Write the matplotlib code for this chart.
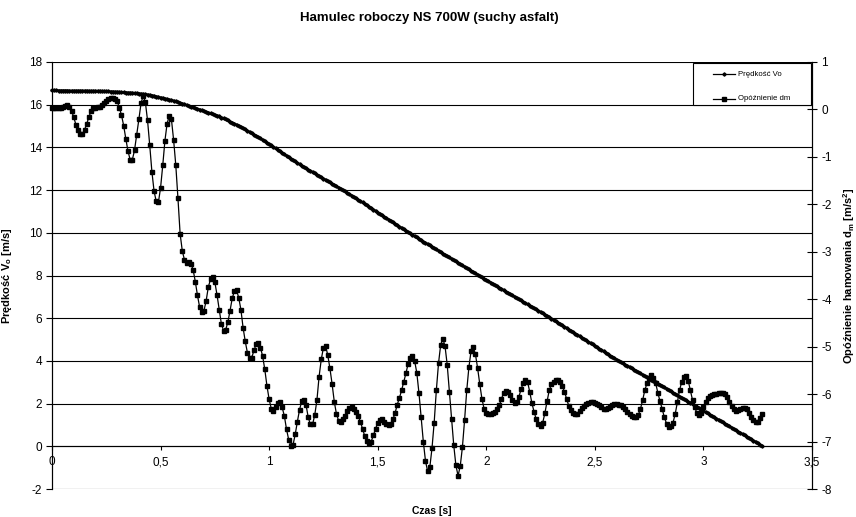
import numpy as np
import matplotlib
matplotlib.use("Agg")
import matplotlib.pyplot as plt
from matplotlib.lines import Line2D
from matplotlib.patches import Rectangle

plt.rcParams['font.family'] = ['Liberation Sans', 'DejaVu Sans']

# time samples [s] (0.01 s step)
time_s = np.round(np.arange(0, 328) * 0.01, 2)

# speed Vo [m/s]
speed = [
    16.67, 16.67, 16.67, 16.66, 16.66, 16.66, 16.66, 16.66, 16.65, 16.65,
    16.65, 16.65, 16.65, 16.65, 16.65, 16.65, 16.65, 16.64, 16.64, 16.64,
    16.64, 16.64, 16.64, 16.63, 16.63, 16.62, 16.62, 16.61, 16.61, 16.60,
    16.60, 16.59, 16.58, 16.58, 16.57, 16.56, 16.56, 16.55, 16.54, 16.53,
    16.52, 16.51, 16.50, 16.48, 16.47, 16.45, 16.43, 16.41, 16.38, 16.36,
    16.33, 16.31, 16.28, 16.26, 16.23, 16.21, 16.18, 16.15, 16.12, 16.08,
    16.05, 16.01, 15.98, 15.94, 15.91, 15.87, 15.84, 15.80, 15.77, 15.73,
    15.70, 15.66, 15.63, 15.59, 15.56, 15.52, 15.49, 15.45, 15.40, 15.36,
    15.31, 15.26, 15.21, 15.16, 15.11, 15.06, 15.01, 14.96, 14.90, 14.84,
    14.78, 14.72, 14.66, 14.60, 14.54, 14.48, 14.42, 14.35, 14.29, 14.22,
    14.15, 14.09, 14.02, 13.95, 13.89, 13.82, 13.75, 13.68, 13.61, 13.54,
    13.47, 13.41, 13.34, 13.27, 13.21, 13.14, 13.08, 13.02, 12.96, 12.90,
    12.84, 12.78, 12.72, 12.66, 12.60, 12.54, 12.48, 12.42, 12.36, 12.30,
    12.24, 12.18, 12.12, 12.06, 12.00, 11.94, 11.87, 11.81, 11.74, 11.68,
    11.61, 11.55, 11.48, 11.42, 11.35, 11.29, 11.22, 11.16, 11.09, 11.02,
    10.95, 10.89, 10.82, 10.75, 10.69, 10.62, 10.56, 10.49, 10.42, 10.36,
    10.29, 10.23, 10.16, 10.10, 10.03, 9.97, 9.91, 9.84, 9.78, 9.72,
    9.66, 9.59, 9.53, 9.47, 9.41, 9.35, 9.28, 9.22, 9.16, 9.10,
    9.03, 8.97, 8.91, 8.85, 8.78, 8.72, 8.66, 8.60, 8.53, 8.47,
    8.41, 8.35, 8.29, 8.22, 8.16, 8.10, 8.04, 7.97, 7.91, 7.85,
    7.79, 7.73, 7.67, 7.61, 7.55, 7.49, 7.43, 7.37, 7.31, 7.25,
    7.19, 7.13, 7.07, 7.01, 6.95, 6.89, 6.83, 6.77, 6.71, 6.65,
    6.59, 6.53, 6.47, 6.41, 6.35, 6.29, 6.23, 6.17, 6.11, 6.05,
    5.98, 5.92, 5.85, 5.79, 5.73, 5.66, 5.60, 5.54, 5.47, 5.41,
    5.34, 5.28, 5.22, 5.15, 5.09, 5.02, 4.96, 4.89, 4.83, 4.77,
    4.70, 4.64, 4.57, 4.51, 4.45, 4.38, 4.32, 4.25, 4.19, 4.13,
    4.06, 4.00, 3.94, 3.88, 3.82, 3.77, 3.71, 3.65, 3.59, 3.53,
    3.47, 3.41, 3.35, 3.29, 3.23, 3.18, 3.12, 3.06, 3.00, 2.94,
    2.88, 2.82, 2.76, 2.70, 2.64, 2.58, 2.51, 2.45, 2.39, 2.33,
    2.27, 2.21, 2.15, 2.09, 2.03, 1.97, 1.91, 1.85, 1.79, 1.72,
    1.66, 1.60, 1.54, 1.48, 1.42, 1.36, 1.30, 1.24, 1.18, 1.12,
    1.06, 1.00, 0.94, 0.87, 0.81, 0.75, 0.69, 0.63, 0.57, 0.51,
    0.45, 0.39, 0.33, 0.27, 0.21, 0.14, 0.08, 0.02,
]

# deceleration dm [m/s^2]
decel = [
    0.02, 0.02, 0.02, 0.03, 0.04, 0.06, 0.08, 0.09, 0.06, -0.03,
    -0.16, -0.32, -0.44, -0.52, -0.52, -0.43, -0.30, -0.16, -0.03, 0.03,
    0.04, 0.05, 0.06, 0.09, 0.13, 0.17, 0.21, 0.24, 0.25, 0.22,
    0.18, 0.04, -0.12, -0.34, -0.62, -0.88, -1.06, -1.06, -0.86, -0.54,
    -0.21, 0.13, 0.29, 0.15, -0.23, -0.75, -1.31, -1.72, -1.94, -1.96,
    -1.65, -1.18, -0.66, -0.30, -0.13, -0.21, -0.64, -1.17, -1.87, -2.62,
    -2.98, -3.17, -3.23, -3.22, -3.25, -3.38, -3.63, -3.92, -4.17, -4.26,
    -4.24, -4.03, -3.74, -3.58, -3.53, -3.64, -3.91, -4.22, -4.52, -4.66,
    -4.64, -4.48, -4.24, -3.98, -3.83, -3.81, -3.97, -4.22, -4.60, -4.89,
    -5.13, -5.24, -5.23, -5.08, -4.95, -4.93, -5.02, -5.20, -5.48, -5.83,
    -6.11, -6.31, -6.35, -6.28, -6.19, -6.16, -6.28, -6.46, -6.74, -6.96,
    -7.09, -7.07, -6.85, -6.58, -6.33, -6.15, -6.13, -6.23, -6.49, -6.64,
    -6.64, -6.44, -6.13, -5.63, -5.27, -5.02, -4.98, -5.18, -5.46, -5.79,
    -6.16, -6.42, -6.56, -6.59, -6.53, -6.46, -6.35, -6.30, -6.28, -6.31,
    -6.37, -6.46, -6.58, -6.73, -6.88, -6.98, -7.02, -7.00, -6.87, -6.73,
    -6.61, -6.55, -6.53, -6.58, -6.64, -6.66, -6.62, -6.53, -6.40, -6.22,
    -6.08, -5.92, -5.74, -5.56, -5.36, -5.24, -5.20, -5.30, -5.55, -5.98,
    -6.49, -7.00, -7.41, -7.63, -7.54, -7.14, -6.60, -5.92, -5.35, -4.96,
    -4.83, -4.99, -5.38, -5.95, -6.53, -7.07, -7.50, -7.72, -7.52, -7.12,
    -6.55, -5.92, -5.43, -5.09, -5.01, -5.16, -5.45, -5.79, -6.10, -6.31,
    -6.40, -6.42, -6.42, -6.40, -6.37, -6.32, -6.24, -6.10, -5.97, -5.93,
    -5.95, -6.02, -6.13, -6.18, -6.16, -6.06, -5.90, -5.77, -5.70, -5.74,
    -5.95, -6.19, -6.37, -6.53, -6.62, -6.67, -6.60, -6.40, -6.15, -5.92,
    -5.79, -5.74, -5.71, -5.71, -5.75, -5.83, -5.95, -6.10, -6.25, -6.34,
    -6.40, -6.42, -6.41, -6.35, -6.30, -6.25, -6.21, -6.18, -6.17, -6.17,
    -6.18, -6.21, -6.24, -6.28, -6.31, -6.32, -6.30, -6.27, -6.23, -6.21,
    -6.20, -6.22, -6.24, -6.28, -6.32, -6.37, -6.42, -6.46, -6.48, -6.49,
    -6.44, -6.31, -6.13, -5.92, -5.77, -5.65, -5.60, -5.65, -5.77, -5.97,
    -6.15, -6.31, -6.49, -6.62, -6.69, -6.68, -6.60, -6.42, -6.17, -5.92,
    -5.74, -5.63, -5.61, -5.72, -5.92, -6.13, -6.28, -6.40, -6.44, -6.40,
    -6.28, -6.16, -6.08, -6.03, -6.01, -6.00, -5.99, -5.98, -5.97, -5.97,
    -6.00, -6.07, -6.16, -6.25, -6.32, -6.35, -6.34, -6.32, -6.29, -6.29,
    -6.32, -6.40, -6.49, -6.55, -6.59, -6.59, -6.50, -6.42,
]

x_ticks = [0, 0.5, 1, 1.5, 2, 2.5, 3, 3.5]
x_tick_labels = ['0', '0,5', '1', '1,5', '2', '2,5', '3', '3,5']
left_ticks = [-2, 0, 2, 4, 6, 8, 10, 12, 14, 16, 18]
right_ticks = [-8, -7, -6, -5, -4, -3, -2, -1, 0, 1]

title = 'Hamulec roboczy NS 700W (suchy asfalt)'
xlabel = 'Czas [s]'
ylabel_left = 'Prędkość V$_\\mathregular{o}$ [m/s]'
ylabel_right = 'Opóźnienie hamowania d$_\\mathregular{m}$ [m/s$^\\mathregular{2}$]'
legend_labels = ['Prędkość Vo', 'Opóźnienie dm']

W, H = 856, 517
fig = plt.figure(figsize=(W/100, H/100), dpi=100)
ax = fig.add_axes([52/W, 1-489/H, 760/W, 427/H])
ax2 = ax.twinx()

ax.set_xlim(0, 3.5)
ax.set_ylim(-2, 18)
ax2.set_ylim(-8, 1)

ax.set_yticks(left_ticks)
ax.set_yticklabels([str(v) for v in left_ticks])
ax2.set_yticks(right_ticks)
ax2.set_yticklabels([str(v) for v in right_ticks])
ax.set_xticks(x_ticks)
ax.set_xticklabels(x_tick_labels)

ax.yaxis.grid(True, color='black', linewidth=0.8)
ax.set_axisbelow(True)

ax.spines['bottom'].set_position(('data', 0))
for ax_ in (ax, ax2):
    ax_.spines['top'].set_visible(False)
    for s in ax_.spines.values():
        s.set_linewidth(0.8)
ax2.spines['bottom'].set_visible(False)

ax.tick_params(axis='x', direction='out', length=3, width=0.8, labelsize=8.5, pad=4, colors='black')
ax.tick_params(axis='y', direction='out', length=4, width=0.8, labelsize=8.5, pad=3)
ax2.tick_params(axis='y', direction='inout', length=7, width=0.8, labelsize=8.5, pad=3)

l1, = ax.plot(time_s, speed, color='black', linewidth=1.9, marker='D',
              markersize=1.7, clip_on=False, zorder=3)
l2, = ax2.plot(time_s, decel, color='black', linewidth=0.9, marker='s',
               markersize=2.3, clip_on=False, zorder=3)

ax.set_xlabel(xlabel, fontsize=7.5, fontweight='bold')
ax.xaxis.set_label_coords(0.5, (489-506)/427, transform=ax.transAxes)
ax.set_ylabel(ylabel_left, fontsize=8, fontweight='bold')
ax.yaxis.set_label_coords((14-52)/760, 0.5)
ax2.set_ylabel(ylabel_right, fontsize=8, fontweight='bold')
ax2.yaxis.set_label_coords((841-52)/760, 0.5)

fig.text(429/W, 1-18/H, title, ha='center', va='center', fontsize=9.5, fontweight='bold')

# legend box drawn in figure pixel layout (Excel style)
def fx(px):
    return px / W

def fy(py):
    return 1 - py / H

fig.add_artist(Rectangle((fx(693), fy(105)), fx(811) - fx(693), fy(63) - fy(105),
                         transform=fig.transFigure, facecolor='white',
                         edgecolor='black', linewidth=0.8, zorder=5))
for (py, mk, ms), label in zip([(74, 'D', 1.7), (98.5, 's', 2.3)], legend_labels):
    fig.add_artist(Line2D([fx(713), fx(735)], [fy(py), fy(py)], transform=fig.transFigure,
                          color='black', linewidth=0.9, zorder=6))
    fig.add_artist(Line2D([fx(724)], [fy(py)], transform=fig.transFigure, color='black',
                          marker=mk, markersize=ms, linestyle='none', zorder=6))
    fig.text(fx(737.5), fy(py + 0.5), label, ha='left', va='center', fontsize=5.6, zorder=7)

fig.savefig('out.png', dpi=100)
